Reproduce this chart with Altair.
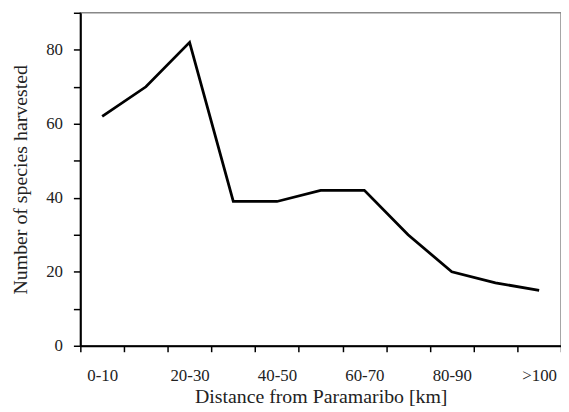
import altair as alt
import pandas as pd

categories = ["0-10", "10-20", "20-30", "30-40", "40-50", "50-60",
              "60-70", "70-80", "80-90", "90-100", ">100"]
species = [62, 70, 82, 39, 39, 42, 42, 30, 20, 17, 15]
shown_labels = ["0-10", "20-30", "40-50", "60-70", "80-90", ">100"]
y_ticks = [0, 10, 20, 30, 40, 50, 60, 70, 80, 90]

df = pd.DataFrame({"distance": categories, "species": species})

label_list = "[" + ",".join("'" + s + "'" for s in shown_labels) + "]"

font = "Liberation Serif"

chart = alt.Chart(df).mark_line(color="black", strokeWidth=2.8, strokeJoin="miter").encode(
    x=alt.X(
        "distance:N",
        sort=categories,
        scale=alt.Scale(paddingInner=0, paddingOuter=0),
        axis=alt.Axis(
            title="Distance from Paramaribo [km]",
            labelAngle=0,
            tickBand="extent",
            labelExpr="indexof(" + label_list + ", datum.value) >= 0 ? datum.label : ''",
            tickSize=6,
            tickWidth=1.5,
            tickColor="black",
            domainColor="black",
            domainWidth=2,
            labelPadding=16,
            titlePadding=3,
        ),
    ),
    y=alt.Y(
        "species:Q",
        scale=alt.Scale(domain=[0, 90], nice=False),
        axis=alt.Axis(
            title="Number of species harvested",
            values=y_ticks,
            labelExpr="(datum.value % 20 == 0 && datum.value < 90) ? datum.label : ''",
            grid=False,
            tickSize=7,
            tickWidth=1.5,
            tickColor="black",
            domainColor="black",
            domainWidth=2,
            labelPadding=11,
            titlePadding=15,
        ),
    ),
).properties(
    width=485,
    height=336,
    autosize=alt.AutoSizeParams(type="none"),
    padding={"left": 73, "top": 3, "right": 0, "bottom": 65},
).configure_view(
    stroke="#888888", strokeWidth=1.5
).configure_axis(
    labelFont=font,
    titleFont=font,
    labelFontSize=17,
    titleFontSize=20,
    labelColor="#222222",
    titleColor="#222222",
    titleFontWeight="normal",
)

chart.save("out.html", embed_options={"renderer": "svg", "actions": False})
